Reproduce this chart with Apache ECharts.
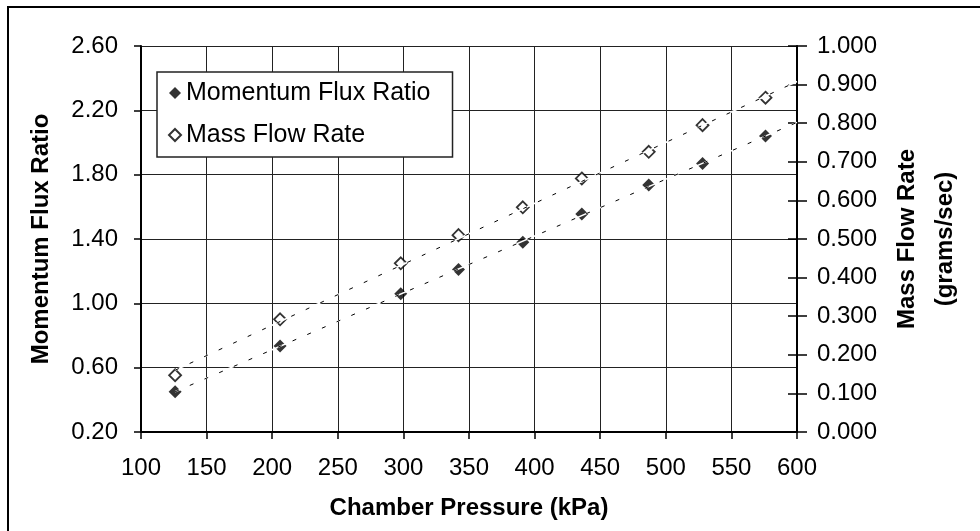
<!DOCTYPE html>
<html>
<head>
<meta charset="utf-8">
<script src="https://cdn.jsdelivr.net/npm/echarts@6/dist/echarts.min.js"></script>
<style>
  html, body { margin: 0; padding: 0; background: #fff; }
  #chart { width: 980px; height: 531px; }
</style>
</head>
<body>
<div id="chart"></div>
<script>
// chamber pressure (kPa) for each test point
const pressure = [126, 206, 298, 342, 391, 436, 487, 528, 576];
const fluxRatio = [0.45, 0.735, 1.06, 1.21, 1.38, 1.555, 1.735, 1.87, 2.04];
const massFlow = [0.147, 0.292, 0.437, 0.51, 0.582, 0.657, 0.726, 0.795, 0.866];

// linear trendlines, end points
const trendX = [126, 600];
const fluxTrend = [0.45, 2.125];
const massTrend = [0.16, 0.908];

// axis ranges [min, max, interval]
const xRange = [100, 600, 50];
const fluxRange = [0.2, 2.6, 0.4];
const massRange = [0, 1, 0.1];

const FONT = "'Liberation Sans', Arial, sans-serif";

const pairs = (xs, ys) => xs.map((x, i) => [x, ys[i]]);

const chart = echarts.init(document.getElementById("chart"));

const trendBg = (name, ys, axis) => ({
  name: name,
  type: "line",
  yAxisIndex: axis,
  data: pairs(trendX, ys),
  showSymbol: false,
  silent: true,
  z: 5,
  lineStyle: { color: "#fff", width: 1.5 },
});
const trendFg = (name, ys, axis) => ({
  name: name,
  type: "line",
  yAxisIndex: axis,
  data: pairs(trendX, ys),
  showSymbol: false,
  silent: true,
  z: 6,
  lineStyle: { color: "#000", width: 1, type: [4, 12] },
});

const option = {
  animation: false,
  backgroundColor: "#fff",
  textStyle: { fontFamily: FONT },
  grid: { left: 141, right: 183, top: 46, bottom: 99 },
  graphic: [
    {
      type: "rect",
      shape: { x: 8, y: 7, width: 1000, height: 1000 },
      style: { fill: "none", stroke: "#000", lineWidth: 2 },
      silent: true,
    },
  ],
  legend: {
    orient: "vertical",
    left: 157,
    top: 72,
    data: [
      { name: "Momentum Flux Ratio", icon: "diamond" },
      { name: "Mass Flow Rate", icon: "diamond" },
    ],
    itemWidth: 12,
    itemHeight: 12,
    itemGap: 14,
    itemTextGap: 8,
    padding: [7, 22, 8, 11],
    borderColor: "#222",
    borderWidth: 1.5,
    backgroundColor: "#fff",
    textStyle: { fontSize: 25, color: "#000", fontFamily: FONT, lineHeight: 28 },
  },
  xAxis: {
    type: "value",
    min: xRange[0],
    max: xRange[1],
    interval: xRange[2],
    name: "Chamber Pressure (kPa)",
    nameLocation: "middle",
    nameGap: 64,
    nameTextStyle: { fontSize: 24, fontWeight: "bold", color: "#000", fontFamily: FONT },
    axisLine: { lineStyle: { color: "#000", width: 2 } },
    axisTick: { show: true, length: 7, lineStyle: { color: "#000", width: 1.5 } },
    axisLabel: { fontSize: 24, color: "#000", margin: 24, fontFamily: FONT },
    splitLine: { show: true, lineStyle: { color: "#222", width: 1 } },
  },
  yAxis: [
    {
      type: "value",
      position: "left",
      min: fluxRange[0],
      max: fluxRange[1],
      interval: fluxRange[2],
      name: "Momentum Flux Ratio",
      nameLocation: "middle",
      nameGap: 88,
      nameTextStyle: { fontSize: 24, fontWeight: "bold", color: "#000", fontFamily: FONT },
      axisLine: { show: true, lineStyle: { color: "#000", width: 2 } },
      axisTick: { show: true, length: 7, lineStyle: { color: "#000", width: 1.5 } },
      axisLabel: {
        fontSize: 24,
        color: "#000",
        margin: 23,
        fontFamily: FONT,
        formatter: (v) => v.toFixed(2),
      },
      splitLine: { show: true, lineStyle: { color: "#222", width: 1 } },
    },
    {
      type: "value",
      position: "right",
      min: massRange[0],
      max: massRange[1],
      interval: massRange[2],
      name: "Mass Flow Rate\n(grams/sec)",
      nameLocation: "middle",
      nameRotate: 90,
      nameGap: 85,
      nameTextStyle: {
        fontSize: 24,
        fontWeight: "bold",
        color: "#000",
        fontFamily: FONT,
        lineHeight: 38,
      },
      axisLine: { show: true, lineStyle: { color: "#000", width: 2 } },
      axisTick: { show: true, length: 10, lineStyle: { color: "#000", width: 1.5 } },
      axisLabel: {
        fontSize: 24,
        color: "#000",
        margin: 20,
        fontFamily: FONT,
        formatter: (v) => v.toFixed(3),
      },
      splitLine: { show: false },
    },
    {
      // inner half of the crossing ticks on the right axis
      type: "value",
      position: "right",
      min: massRange[0],
      max: massRange[1],
      interval: massRange[2],
      axisLine: { show: false },
      axisTick: { show: true, inside: true, length: 9, lineStyle: { color: "#000", width: 1.5 } },
      axisLabel: { show: false },
      splitLine: { show: false },
    },
  ],
  series: [
    {
      name: "Momentum Flux Ratio",
      type: "scatter",
      yAxisIndex: 0,
      symbol: "diamond",
      symbolSize: 13,
      itemStyle: { color: "#000" },
      data: pairs(pressure, fluxRatio),
      z: 3,
    },
    {
      name: "Mass Flow Rate",
      type: "scatter",
      yAxisIndex: 1,
      symbol: "diamond",
      symbolSize: 12,
      itemStyle: { color: "#fff", borderColor: "#000", borderWidth: 1.8 },
      data: pairs(pressure, massFlow),
      z: 3,
    },
    trendBg("fluxTrendBg", fluxTrend, 0),
    trendFg("fluxTrend", fluxTrend, 0),
    trendBg("massTrendBg", massTrend, 1),
    trendFg("massTrend", massTrend, 1),
  ],
};

chart.setOption(option);
</script>
</body>
</html>
